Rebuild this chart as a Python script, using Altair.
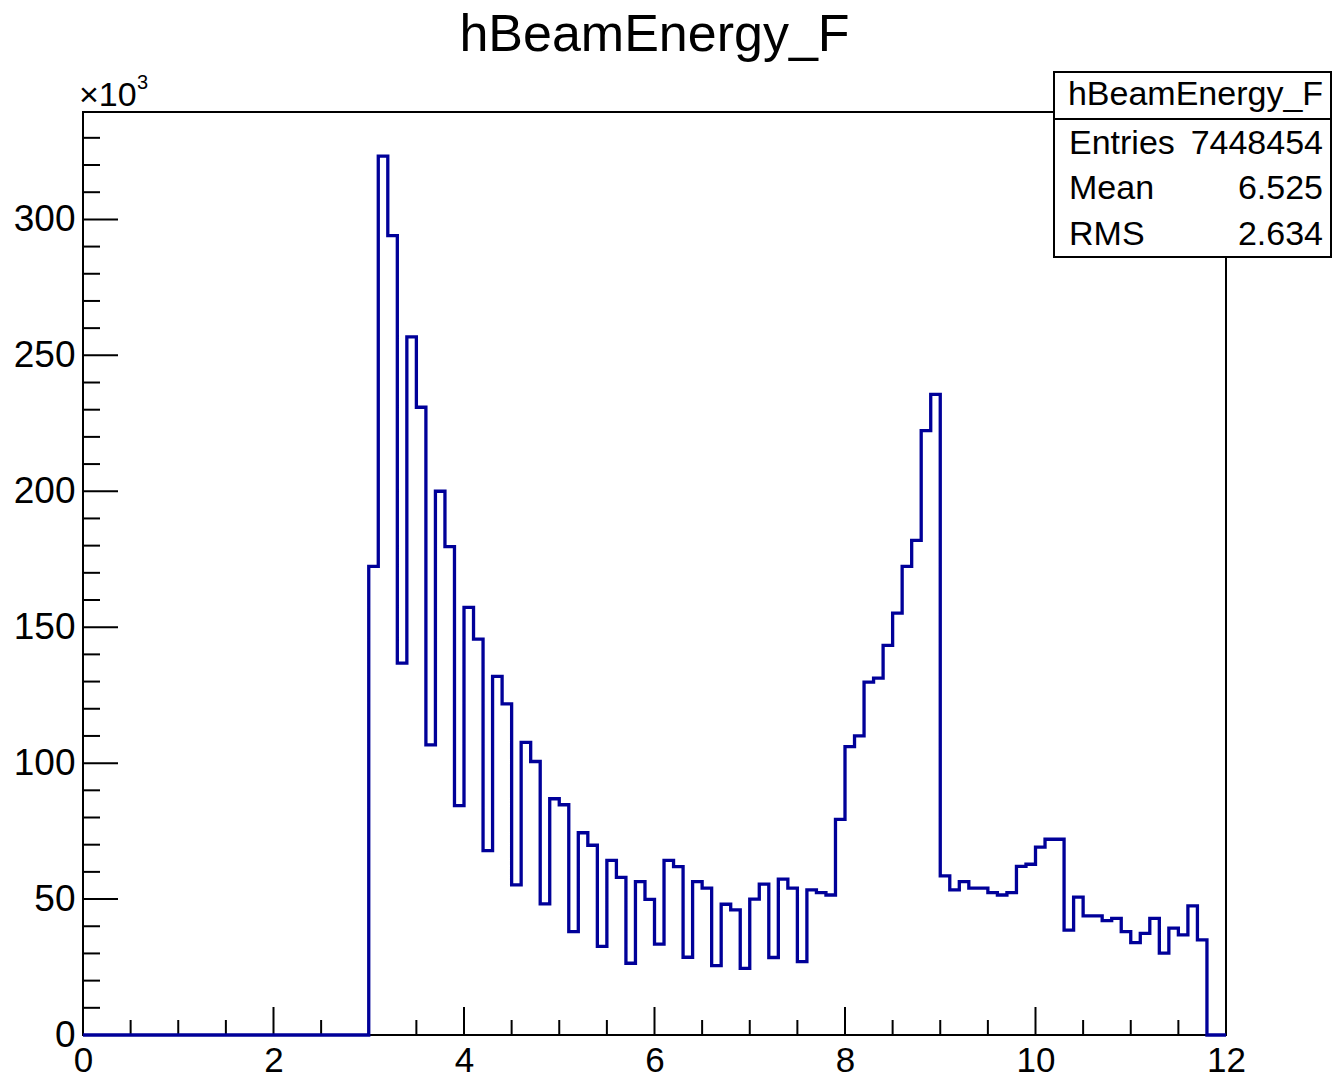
import altair as alt
import pandas as pd

# ---------------- data (counts in thousands per 0.1-wide bin, 0..12) ----------------
bin_width = 0.1
x_min, x_max = 0.0, 12.0
y_max = 339.5

counts_3_to_4 = [172.4, 323.3, 294.0, 136.8, 256.8, 230.9, 106.7, 200.0, 179.6, 84.4]
counts_4_to_5 = [157.3, 145.6, 67.8, 131.9, 121.8, 55.2, 107.6, 100.6, 48.2, 86.9]
counts_5_to_6 = [84.7, 38.0, 74.4, 69.8, 32.6, 64.2, 58.0, 26.4, 56.4, 49.9]
counts_6_to_7 = [33.4, 64.2, 61.9, 28.6, 56.4, 54.0, 25.5, 48.1, 46.0, 24.5]
counts_7_to_8 = [50.0, 55.5, 28.5, 57.3, 54.0, 27.0, 53.4, 52.4, 51.5, 79.3]
counts_8_to_9 = [106.1, 110.0, 129.8, 131.3, 143.3, 155.2, 172.4, 181.9, 222.3, 235.6]
counts_9_to_10 = [58.5, 53.4, 56.4, 54.0, 54.0, 52.4, 51.5, 52.4, 62.0, 62.8]
counts_10_to_11 = [69.1, 72.0, 72.0, 38.6, 50.7, 43.8, 43.8, 42.1, 42.9, 38.0]
counts_11_to_12 = [34.0, 37.4, 42.9, 30.1, 39.3, 36.8, 47.5, 35.0, 0.0, 0.0]

counts = ([0.0] * 30 + counts_3_to_4 + counts_4_to_5 + counts_5_to_6 + counts_6_to_7
          + counts_7_to_8 + counts_8_to_9 + counts_9_to_10 + counts_10_to_11 + counts_11_to_12)

x_major_ticks = [0, 2, 4, 6, 8, 10, 12]
x_minor_ticks = [v / 2 for v in range(0, 25) if v % 4]
y_major_ticks = [0, 50, 100, 150, 200, 250, 300]
y_minor_ticks = [v for v in range(0, 340, 10) if v % 50]

title_text = "hBeamEnergy_F"
stats_title = "hBeamEnergy_F"
stats_labels = ["Entries", "Mean", "RMS"]
stats_values = ["7448454", "6.525", "2.634"]

# ---------------- layout ----------------
W, H = 1143, 923
FONT = "Liberation Sans"
BLUE = "#000099"

edges = [round(i * bin_width, 1) for i in range(len(counts) + 1)]
hist_df = pd.DataFrame({"edge": edges, "count": counts + [0.0]})

xs = alt.Scale(domain=[x_min, x_max], nice=False, zero=False)
ys = alt.Scale(domain=[0, y_max], nice=False)

xaxis = alt.Axis(values=x_major_ticks, format="d", ticks=False, domain=False, grid=False,
                 labelFont=FONT, labelFontSize=35, labelColor="black", labelPadding=8,
                 labelFlush=False, labelOverlap=False, title="")
yaxis = alt.Axis(values=y_major_ticks, format="d", ticks=False, domain=False, grid=False,
                 labelFont=FONT, labelFontSize=37, labelColor="black", labelPadding=8,
                 labelFlush=False, labelOverlap=False, title="")

one = pd.DataFrame({"k": [0]})

frame = alt.Chart(one).mark_rect(fill="transparent", stroke="black", strokeWidth=2).encode(
    x=alt.value(0), x2=alt.value(W), y=alt.value(0), y2=alt.value(H)
)

def xtick_layer(vals, length):
    return alt.Chart(pd.DataFrame({"edge": vals})).mark_rule(color="black", strokeWidth=2).encode(
        x=alt.X("edge:Q", scale=xs, axis=xaxis), y=alt.value(H), y2=alt.value(H - length)
    )

def ytick_layer(vals, length):
    return alt.Chart(pd.DataFrame({"count": vals})).mark_rule(color="black", strokeWidth=2).encode(
        y=alt.Y("count:Q", scale=ys, axis=yaxis), x=alt.value(0), x2=alt.value(length)
    )

hist = alt.Chart(hist_df).mark_line(interpolate="step-after", color=BLUE, strokeWidth=3.3).encode(
    x=alt.X("edge:Q", scale=xs, axis=xaxis),
    y=alt.Y("count:Q", scale=ys, axis=yaxis),
    order="edge:Q",
)

def text_layer(txt, x, y, size, align="left", baseline="alphabetic"):
    return alt.Chart(pd.DataFrame({"t": [txt]})).mark_text(
        font=FONT, fontSize=size, align=align, baseline=baseline, color="black"
    ).encode(text="t:N", x=alt.value(x), y=alt.value(y))

box_x0, box_x1, box_y0, box_y1 = 971, 1248, -40, 145
stats_box = alt.Chart(one).mark_rect(fill="white", stroke="black", strokeWidth=2).encode(
    x=alt.value(box_x0), x2=alt.value(box_x1), y=alt.value(box_y0), y2=alt.value(box_y1)
)
stats_div = alt.Chart(one).mark_rule(color="black", strokeWidth=2).encode(
    x=alt.value(box_x0), x2=alt.value(box_x1), y=alt.value(7)
)

layers = [
    frame,
    xtick_layer(x_major_ticks, 28), xtick_layer(x_minor_ticks, 15),
    ytick_layer(y_major_ticks, 35), ytick_layer(y_minor_ticks, 17),
    hist,
    stats_box, stats_div,
    text_layer(stats_title, (box_x0 + box_x1) / 2 + 3, -7, 34, align="center"),
    text_layer(title_text, W / 2, -61, 52, align="center"),
    text_layer("\u00d710", -4, -6, 34),
    text_layer("3", 54, -23, 20),
]
row_baselines = [42, 87, 133]
for lab, val, yb in zip(stats_labels, stats_values, row_baselines):
    layers.append(text_layer(lab, 986, yb, 34))
    layers.append(text_layer(val, 1240, yb, 34, align="right"))

chart = alt.layer(*layers).properties(
    width=W, height=H,
    autosize=alt.AutoSizeParams(type="none"),
    padding={"left": 83, "top": 112, "right": 106, "bottom": 44},
    background="white",
).configure_view(strokeWidth=0)

chart.save("out.html", embed_options={"renderer": "svg", "actions": False})
